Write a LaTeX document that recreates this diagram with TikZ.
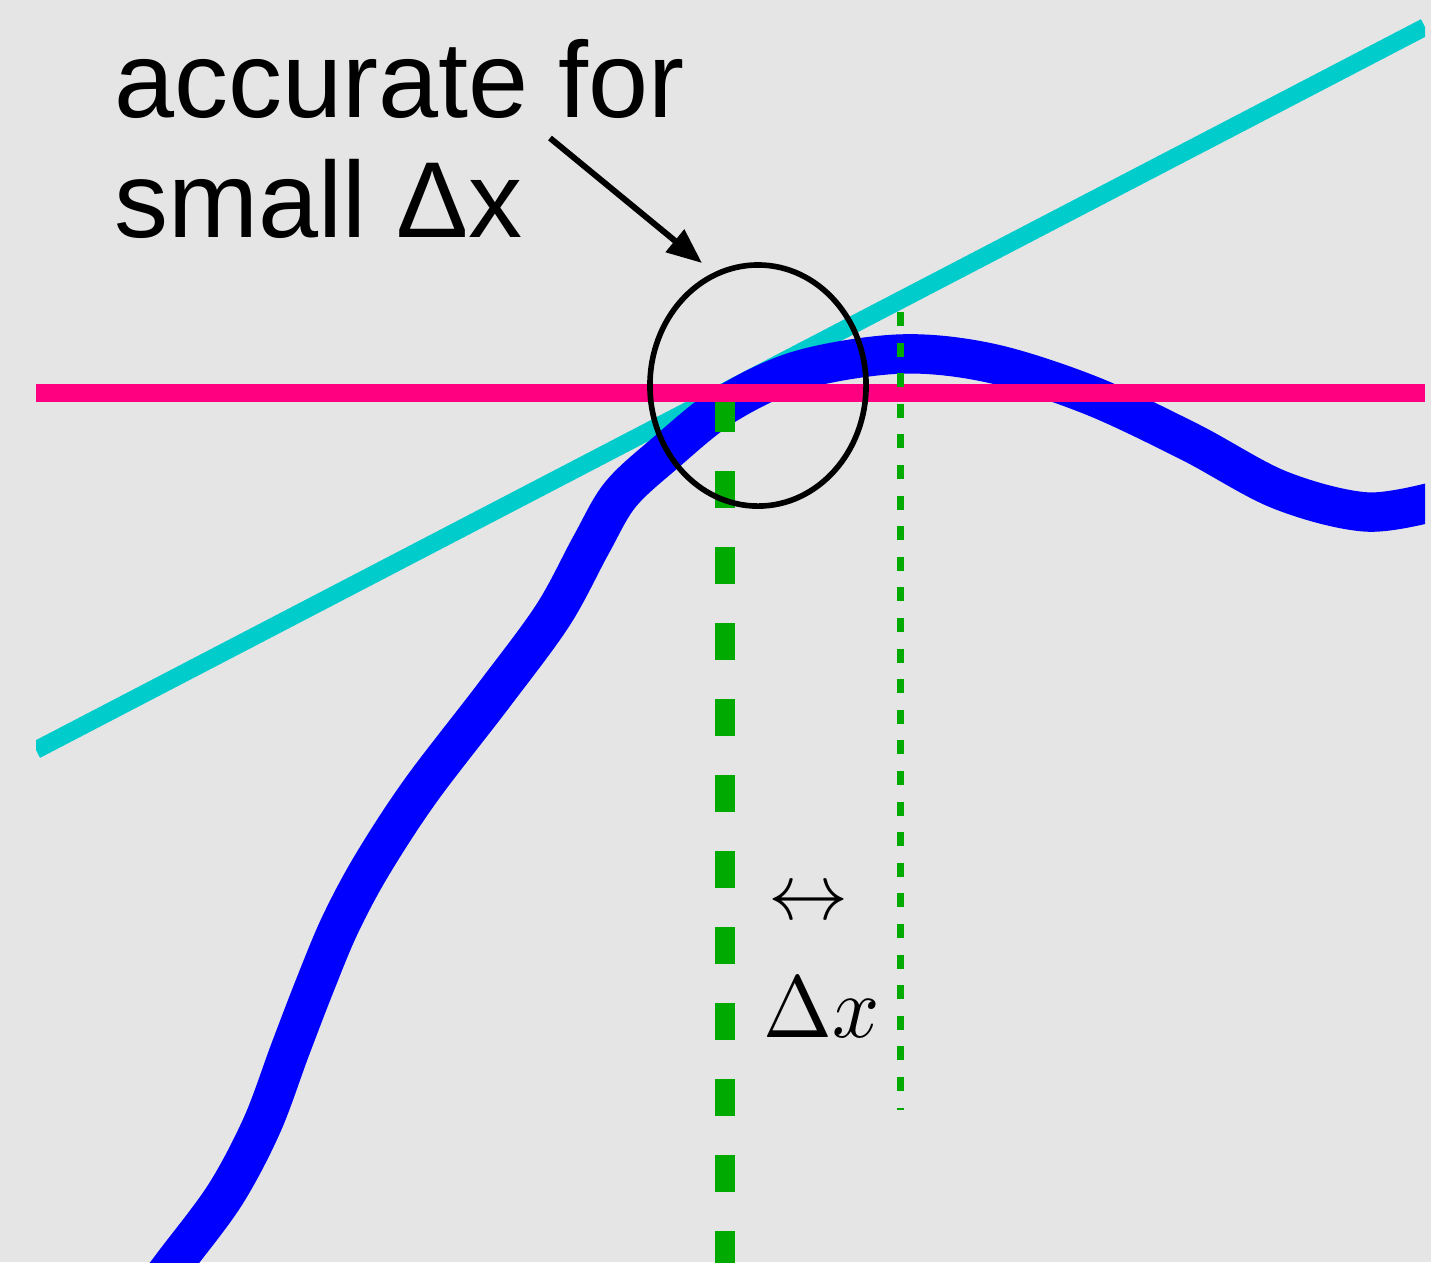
\documentclass[tikz,border=0pt]{standalone}
\usepackage{fontspec}
\newfontfamily\labelfont{Liberation Sans}
\usetikzlibrary{shapes.geometric,arrows.meta}
\definecolor{bg}{HTML}{E5E5E5}
\definecolor{tang}{HTML}{00CCCC}
\definecolor{horiz}{HTML}{FF0080}
\definecolor{func}{HTML}{0000FF}
\definecolor{grn}{HTML}{00AA00}
\tikzset{
  tangline/.style={tang, line width=5pt},
  horizline/.style={horiz, line width=5.1pt},
  funcline/.style={func, line width=11.2pt},
  bigdash/.style={grn, line width=5.7pt, dash pattern=on 10.6pt off 11pt},
  smalldot/.style={grn, line width=2pt, dash pattern=on 4pt off 4.7pt},
  ringnode/.style={ellipse, draw=black, line width=1.6pt, inner sep=0pt,
                   minimum width=2.16cm, minimum height=2.41cm},
  sanslabel/.style={anchor=base west, inner sep=0pt, text=black,
                    font=\labelfont\fontsize{30.7}{36}\selectfont},
  mathlabel/.style={anchor=base west, inner sep=0pt, text=black},
  pointer/.style={black, line width=1.7pt, -{Triangle[length=10pt,width=8pt]}}
}
\begin{document}
\begin{tikzpicture}[x=0.01cm,y=-0.01cm]
\fill[bg] (0,0) rectangle (1431,1262);
\useasboundingbox (0,0) rectangle (1431,1262);
\begin{scope}
  \clip (36,-20) rectangle (1425,1300);
  \draw[tangline] (36,750) -- (1425,27);
  \draw[funcline] plot[smooth, tension=0.55] coordinates {
    (150,1295) (175,1262) (225,1195) (262,1125) (290,1050) (315,985)
    (340,925) (372,865) (421,790) (494,695) (553,615) (591,545)
    (620,495) (664,454) (725,405) (800,370) (900,354) (990,363)
    (1090,395) (1190,442) (1280,490) (1367,512) (1440,500)};
  \draw[bigdash] (725,395) -- (725,1275);
  \draw[horizline] (36,393) -- (1425,393);
\end{scope}
\draw[smalldot] (900,312) -- (900,1110);
\node[ringnode] (ring) at (758,385.5) {};
\node[sanslabel] (line1) at (114,117) {accurate for};
\node[sanslabel] (line2) at (114,237) {small Δx};
\coordinate (arrS) at (550,138);
\coordinate (arrE) at (702,263);
\draw[pointer] (arrS) -- (arrE);
\node[mathlabel] (dblarrow) at (768,919) {\resizebox{0.80cm}{!}{$\leftrightarrow$}};
\node[mathlabel] (deltax) at (763,1037) {\resizebox{1.16cm}{0.60cm}{$\Delta x$}};
\end{tikzpicture}
\end{document}
